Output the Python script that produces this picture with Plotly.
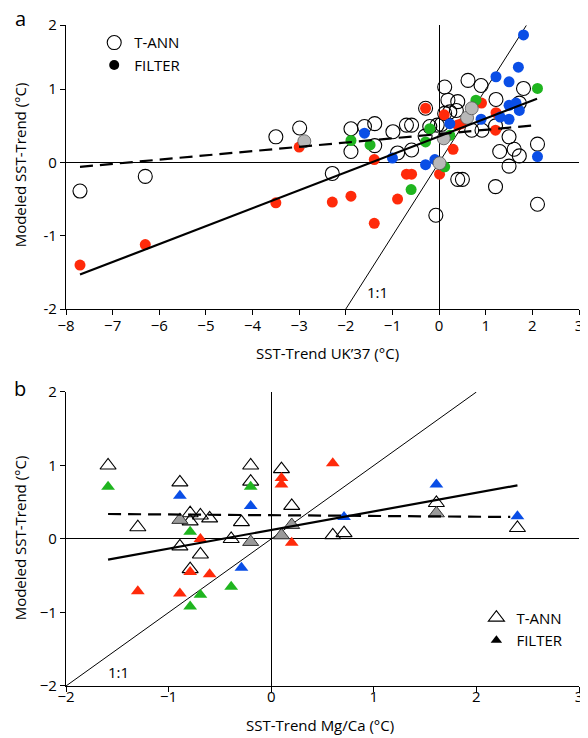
import plotly.graph_objects as go

# ---------------- Panel a (UK'37) ----------------
a_tann_x = [-7.70, -6.30, -3.50, -2.99, -2.29, -1.89, -1.89, -1.60, -1.38, -1.38, -0.99, -0.89,
            -0.70, -0.59, -0.59, -0.29, -0.30, -0.20, -0.04, 0.12, 0.19, 0.40, 0.37, 0.23, 0.05,
            -0.07, 0.40, 0.50, 0.62, 0.90, 0.70, 0.92, 1.22, 1.21, 1.30, 1.21, 1.50, 1.50, 1.61,
            1.72, 1.81, 1.72, 2.11, 2.11, 0.12]
a_tann_y = [-0.39, -0.19, 0.35, 0.47, -0.15, 0.46, 0.15, 0.49, 0.53, 0.23, 0.42, 0.13,
            0.51, 0.51, 0.17, 0.74, 0.36, 0.49, 0.51, 1.03, 0.85, 0.83, 0.71, 0.69, 0.52,
            -0.72, -0.23, -0.23, 1.12, 1.05, 0.44, 0.44, 0.86, 0.50, 0.15, -0.33, 0.35, -0.05, 0.18,
            0.09, 1.01, 0.81, 0.25, -0.57, 0.67]

a_blue_x = [1.81, 1.70, 1.22, 1.50, 1.50, 1.65, 1.72, 1.31, 1.50, 0.90, 2.11, -1.60, -1.00, -0.29, -0.09, 0.23]
a_blue_y = [1.74, 1.30, 1.17, 1.10, 0.78, 0.81, 0.71, 0.62, 0.59, 0.59, 0.08, 0.40, 0.06, -0.03, 0.04, 0.53]

a_red_x = [-7.70, -6.30, -3.50, -3.00, -2.29, -1.89, -1.39, -1.39, -0.89, -0.70, -0.59, -0.29,
           0.01, 0.30, 0.11, 0.40, 0.48, 0.91, 1.22, 1.21]
a_red_y = [-1.40, -1.12, -0.55, 0.21, -0.54, -0.46, -0.83, 0.04, -0.50, -0.16, -0.16, 0.74,
           -0.16, 0.18, 0.65, 0.51, 0.53, 0.81, 0.68, 0.44]

a_green_x = [-1.89, -1.48, -0.60, -0.29, -0.20, 0.12, 0.23, 0.79, 2.11]
a_green_y = [0.30, 0.24, -0.37, 0.28, 0.46, -0.06, 0.37, 0.85, 1.01]

a_grey_x = [-2.89, 0.01, 0.10, 0.60, 0.70]
a_grey_y = [0.29, -0.01, 0.33, 0.61, 0.74]

a_fit_x = [-7.7, 2.1]
a_fit_y = [-1.53, 0.87]
a_dash_x = [-7.7, 2.1]
a_dash_y = [-0.06, 0.51]
a_one_x = [-2.0, 1.87]
a_one_y = [-2.0, 1.87]

a_xticks = [-8, -7, -6, -5, -4, -3, -2, -1, 0, 1, 2, 3]
a_yticks = [-2, -1, 0, 1, 1.876]
a_yticktext = ["-2", "-1", "0", "1", "2"]

# ---------------- Panel b (Mg/Ca) ----------------
b_tann_x = [-1.59, -1.30, -0.89, -0.89, -0.79, -0.79, -0.69, -0.60, -0.69, -0.79, -0.39, -0.29,
            -0.20, -0.20, 0.10, 0.20, 0.60, 0.71, 1.61, 2.40]
b_tann_y = [1.00, 0.16, 0.77, -0.10, 0.35, 0.24, 0.32, 0.28, -0.21, -0.41, 0.00, 0.23,
            1.00, 0.78, 0.95, 0.45, 0.05, 0.08, 0.49, 0.15]

b_green_x = [-1.59, -0.79, -0.69, -0.79, -0.39, -0.20]
b_green_y = [0.71, 0.10, -0.76, -0.92, -0.65, 0.71]

b_blue_x = [-0.89, -0.20, -0.29, 0.71, 1.61, 2.40]
b_blue_y = [0.59, 0.45, -0.39, 0.30, 0.74, 0.31]

b_red_x = [-1.30, -0.89, -0.79, -0.69, -0.60, 0.10, 0.10, 0.20, 0.60]
b_red_y = [-0.71, -0.74, -0.45, 0.00, -0.48, 0.83, 0.74, -0.05, 1.03]

b_grey_x = [-0.89, -0.20, 0.10, 0.20, 1.61]
b_grey_y = [0.26, -0.04, 0.05, 0.19, 0.35]

b_fit_x = [-1.59, 2.40]
b_fit_y = [-0.28, 0.73]
b_dash_x = [-1.59, 2.33]
b_dash_y = [0.34, 0.30]
b_one_x = [-2.0, 2.0]
b_one_y = [-2.0, 2.0]

b_xticks = [-2, -1, 0, 1, 2, 3]
b_yticks = [-2, -1, 0, 1, 2]

RED = "#ff2a0a"
BLUE = "#0a4ee6"
GREEN = "#1fb51f"
GREY_A = "#b8b8b8"
GREY_B = "#9a9a9a"
FONT = "Open Sans"

fig = go.Figure()

def pts(x, y, xa, ya, symbol, size, color, lcolor=None, lwidth=0):
    fig.add_trace(go.Scatter(
        x=x, y=y, xaxis=xa, yaxis=ya, mode="markers", showlegend=False, hoverinfo="skip",
        marker=dict(symbol=symbol, size=size, color=color,
                    line=dict(color=lcolor if lcolor else color, width=lwidth))))

def line(x, y, xa, ya, width, dash="solid"):
    fig.add_trace(go.Scatter(
        x=x, y=y, xaxis=xa, yaxis=ya, mode="lines", showlegend=False, hoverinfo="skip",
        line=dict(color="black", width=width, dash=dash)))

# panel a
line(a_one_x, a_one_y, "x", "y", 1)
pts(a_tann_x, a_tann_y, "x", "y", "circle-open", 14, "black", "black", 1.1)
pts(a_red_x, a_red_y, "x", "y", "circle", 11, RED)
pts(a_blue_x, a_blue_y, "x", "y", "circle", 11, BLUE)
pts(a_green_x, a_green_y, "x", "y", "circle", 11, GREEN)
pts(a_grey_x, a_grey_y, "x", "y", "circle", 13, GREY_A, "#555555", 0.8)
line(a_fit_x, a_fit_y, "x", "y", 2.2)
line(a_dash_x, a_dash_y, "x", "y", 2.2, "13px,7px")

# panel b
line(b_one_x, b_one_y, "x2", "y2", 1)
pts(b_tann_x, b_tann_y, "x2", "y2", "triangle-up-open", 14, "black", "black", 1.1)
pts(b_red_x, b_red_y, "x2", "y2", "triangle-up", 12, RED)
pts(b_blue_x, b_blue_y, "x2", "y2", "triangle-up", 12, BLUE)
pts(b_green_x, b_green_y, "x2", "y2", "triangle-up", 12, GREEN)
pts(b_grey_x, b_grey_y, "x2", "y2", "triangle-up", 14, GREY_B, "#333333", 1)
line(b_fit_x, b_fit_y, "x2", "y2", 2.2)
line(b_dash_x, b_dash_y, "x2", "y2", 2.2, "13px,7px")

# legend entries
fig.add_trace(go.Scatter(x=[None], y=[None], mode="markers", name="T-ANN", legend="legend",
                         marker=dict(symbol="circle-open", size=14, color="black", line=dict(width=1.1))))
fig.add_trace(go.Scatter(x=[None], y=[None], mode="markers", name="FILTER", legend="legend",
                         marker=dict(symbol="circle", size=10, color="black")))
fig.add_trace(go.Scatter(x=[None], y=[None], mode="markers", name="T-ANN", legend="legend2",
                         xaxis="x2", yaxis="y2",
                         marker=dict(symbol="triangle-up-open", size=14, color="black", line=dict(width=1.1))))
fig.add_trace(go.Scatter(x=[None], y=[None], mode="markers", name="FILTER", legend="legend2",
                         xaxis="x2", yaxis="y2",
                         marker=dict(symbol="triangle-up", size=10, color="black")))

axis_common = dict(showgrid=False, showline=True, linecolor="black", linewidth=1.2,
                   ticks="outside", ticklen=5, tickwidth=1.2, tickcolor="black",
                   zeroline=True, zerolinecolor="black", zerolinewidth=1,
                   tickfont=dict(family=FONT, size=15, color="black"), mirror=False)

# page body has an 8px margin: figure drawn 8px up/left of screen positions
W, H = 580, 730
L, R, T, B = 58, 5, 17, 52

def px2paper(px, py):
    # screen pixel -> paper fraction
    return (px - 8 - L) / (W - L - R), (H - B - (py - 8)) / (H - T - B)

anns = []
for txt, (px, py), size, ang in [
    ("a", (20, 19), 20, 0),
    ("b", (20, 388), 20, 0),
    ("Modeled SST-Trend (°C)", (20, 165), 15, -90),
    ("Modeled SST-Trend (°C)", (20, 538), 15, -90),
    ("SST-Trend UK’37 (°C)", (330, 353), 15, 0),
    ("SST-Trend Mg/Ca (°C)", (322, 725), 15, 0),
]:
    xp, yp = px2paper(px, py)
    anns.append(dict(text=txt, x=xp, y=yp, xref="paper", yref="paper", showarrow=False,
                     textangle=ang, xanchor="center", yanchor="middle",
                     font=dict(family=FONT, size=size, color="black")))
anns.append(dict(text="1:1", x=-1.32, y=-1.77, xref="x", yref="y", showarrow=False,
                 font=dict(family=FONT, size=15, color="black")))
anns.append(dict(text="1:1", x=-1.49, y=-1.81, xref="x2", yref="y2", showarrow=False,
                 font=dict(family=FONT, size=15, color="black")))

fig.update_layout(
    width=W, height=H,
    margin=dict(l=L, r=R, t=T, b=B),
    paper_bgcolor="white", plot_bgcolor="white",
    font=dict(family=FONT, size=14, color="black"),
    xaxis=dict(domain=[0, 1], anchor="y", range=[-8, 3], tickvals=a_xticks,
               ticklabelstandoff=-2, **axis_common),
    yaxis=dict(domain=[0.5703, 1], anchor="x", range=[-2, 1.876], tickvals=a_yticks,
               ticktext=a_yticktext, **axis_common),
    xaxis2=dict(domain=[0, 1], anchor="y2", range=[-2, 3], tickvals=b_xticks,
                ticklabelstandoff=-8, **axis_common),
    yaxis2=dict(domain=[0, 0.4448], anchor="x2", range=[-2, 2], tickvals=b_yticks, **axis_common),
    legend=dict(x=0.055, y=0.998, xanchor="left", yanchor="top", bgcolor="rgba(0,0,0,0)",
                font=dict(family=FONT, size=15, color="black"), itemsizing="trace",
                tracegroupgap=0, borderwidth=0),
    legend2=dict(x=0.80, y=0.128, xanchor="left", yanchor="top", bgcolor="rgba(0,0,0,0)",
                 font=dict(family=FONT, size=15, color="black"), itemsizing="trace",
                 tracegroupgap=0, borderwidth=0),
    annotations=anns,
)

fig.write_html("out.html")
